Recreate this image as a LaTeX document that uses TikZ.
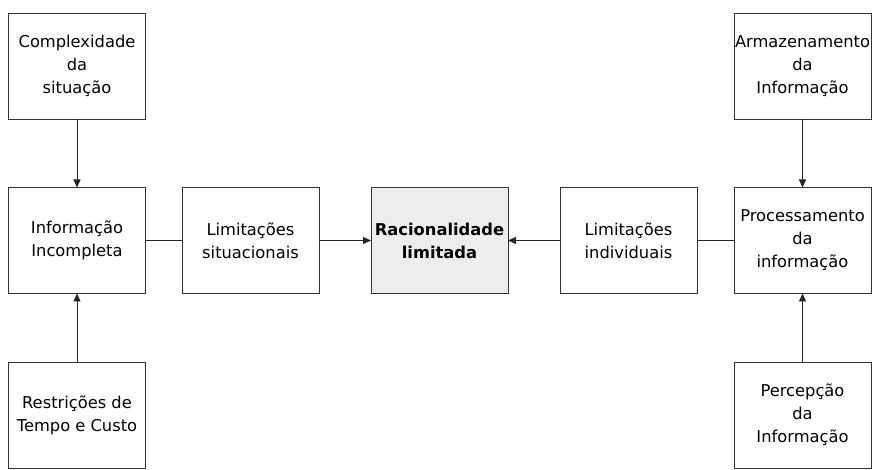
\documentclass[tikz,border=0pt]{standalone}
\usepackage{fontspec}
\setmainfont{DejaVu Sans}
\usetikzlibrary{arrows.meta}
\begin{document}
\begin{tikzpicture}[x=1pt,y=-1pt,
  box/.style={draw=black!80, line width=0.8pt, minimum width=137pt, minimum height=106pt,
    inner sep=0pt, outer sep=0pt, align=center, font=\fontsize{16.3}{23}\selectfont, text=black},
  mainbox/.style={box, fill=black!7, font=\fontsize{16.3}{23}\selectfont\bfseries},
  arr/.style={draw=black!85, line width=0.8pt, -{Triangle[length=8pt,width=7pt]}},
  ln/.style={draw=black!85, line width=0.8pt}]
\useasboundingbox (0,0) rectangle (873,470);
\node[box] (cs) at (77,66) {Complexidade\\da\\situação};
\node[box] (ii) at (77,240.5) {Informação\\Incompleta};
\node[box] (rt) at (77,415) {Restrições de\\Tempo e Custo};
\node[box] (ls) at (250.5,240.5) {Limitações\\situacionais};
\node[mainbox] (rl) at (439.5,240.5) {Racionalidade\\limitada};
\node[box] (li) at (628.5,240.5) {Limitações\\individuais};
\node[box] (ai) at (802.5,66) {Armazenamento\\da\\Informação};
\node[box] (pi) at (802.5,240.5) {Processamento\\da\\informação};
\node[box] (pe) at (802.5,415) {Percepção\\da\\Informação};
\draw[arr] (cs) -- (ii);
\draw[arr] (rt) -- (ii);
\draw[ln] (ii) -- (ls);
\draw[arr] (ls) -- (rl);
\draw[arr] (li) -- (rl);
\draw[ln] (pi) -- (li);
\draw[arr] (ai) -- (pi);
\draw[arr] (pe) -- (pi);
\end{tikzpicture}
\end{document}
